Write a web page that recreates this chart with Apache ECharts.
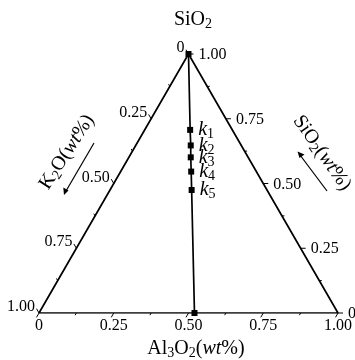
<!DOCTYPE html>
<html><head><meta charset="utf-8">
<script src="https://cdn.jsdelivr.net/npm/echarts@6/dist/echarts.min.js"></script>
<style>html,body{margin:0;padding:0;background:#fff}#c{width:355px;height:360px}</style>
</head><body><div id="c"></div>
<script>
// ---- data ----
const sampleNames = ['', 'k1', 'k2', 'k3', 'k4', 'k5', ''];
const sio2 = [1.00, 0.707, 0.647, 0.601, 0.546, 0.475, 0.00];
const al2o3 = [0.00, 0.152, 0.184, 0.207, 0.236, 0.273, 0.520];
const k2o  = [0.00, 0.141, 0.169, 0.192, 0.218, 0.252, 0.480];
const tickValues = [0, 0.25, 0.5, 0.75, 1];
const tickLabels = ['0', '0.25', '0.50', '0.75', '1.00'];
const minorValues = [0.125, 0.375, 0.625, 0.875];

const H = Math.sqrt(3) / 2;
const FONT = '"Liberation Serif","DejaVu Serif",serif';
function toXY(al, k, si) { return [al + si / 2, si * H]; }

// axes: 0 bottom (Al2O3), 1 left (K2O), 2 right (SiO2)
const axisPoint = [
  t => toXY(t, 1 - t, 0),
  t => toXY(0, t, 1 - t),
  t => toXY(1 - t, 0, t)
];
const tickDir = [[-0.5, 0.866], [-0.5, -0.866], [1, 0]];
const labelCfg = [
  {dx: 0, dy: 5, align: 'center', va: 'top'},
  {dx: -4, dy: 2, align: 'right', va: 'bottom'},
  {dx: 10, dy: 1, align: 'left', va: 'middle'}
];

const tickData = [];
for (let a = 0; a < 3; a++) {
  tickValues.forEach((t, i) => tickData.push([a, t, i, 1]));
  minorValues.forEach(t => tickData.push([a, t, -1, 0]));
}

const triangle = [toXY(0, 1, 0), toXY(1, 0, 0), toXY(0, 0, 1), toXY(0, 1, 0)];
const samples = sio2.map((s, i) => ({value: toXY(al2o3[i], k2o[i], s), name: sampleNames[i]}));

const sub = {fontFamily: FONT, fontSize: 14, fill: '#000', color: '#000', lineHeight: 14, verticalAlign: 'bottom', padding: [7, 0, 0, 0]};
const main = {fontFamily: FONT, fontSize: 20, fill: '#000', color: '#000', lineHeight: 23};
const ital = Object.assign({}, main, {fontStyle: 'italic'});

const chart = echarts.init(document.getElementById('c'));
chart.setOption({
  animation: false,
  grid: {left: 39, top: 54, width: 299, height: 259},
  xAxis: {type: 'value', min: 0, max: 1, show: false},
  yAxis: {type: 'value', min: 0, max: H, show: false},
  series: [
    {type: 'line', data: triangle, symbol: 'none', lineStyle: {color: '#000', width: 1.7}, silent: true},
    {type: 'line', data: samples, symbol: 'rect', symbolSize: 6,
      itemStyle: {color: '#000'}, lineStyle: {color: '#000', width: 1.7},
      label: {show: true, position: 'right', distance: 5,
        formatter: p => p.name ? '{k|k}{s|' + p.name.slice(1) + '}' : '',
        rich: {k: ital, s: sub}}},
    {type: 'custom', data: tickData, clip: false, encode: {x: 1, y: 1},
      renderItem: function (params, api) {
        const a = api.value(0), t = api.value(1), li = api.value(2), major = api.value(3);
        const p = api.coord(axisPoint[a](t));
        const d = tickDir[a];
        const len = major ? 5 : 2.5;
        const children = [{type: 'line', shape: {x1: p[0], y1: p[1], x2: p[0] + d[0] * len, y2: p[1] + d[1] * len},
          style: {stroke: '#000', lineWidth: 1}}];
        if (li >= 0) {
          const c = labelCfg[a];
          children.push({type: 'text', x: p[0] + c.dx, y: p[1] + c.dy,
            style: {text: tickLabels[li], fill: '#000', font: '16px ' + FONT, align: c.align, verticalAlign: c.va}});
        }
        return {type: 'group', children: children};
      }}
  ],
  graphic: [
    {type: 'text', x: 193, y: 20, style: {text: '{m|SiO}{s|2}', align: 'center', verticalAlign: 'middle', rich: {m: main, s: sub}}},
    {type: 'text', x: 196, y: 349, style: {text: '{m|Al}{s|3}{m|O}{s|2}{m|(}{i|wt}{m|%)}', align: 'center', verticalAlign: 'middle', rich: {m: main, i: ital, s: sub}}},
    {type: 'text', x: 67, y: 152, rotation: 57 * Math.PI / 180, style: {text: '{m|K}{s|2}{m|O(}{i|wt}{m|%)}', align: 'center', verticalAlign: 'middle', rich: {m: main, i: ital, s: sub}}},
    {type: 'text', x: 322, y: 153, rotation: -55 * Math.PI / 180, style: {text: '{m|SiO}{s|2}{m|(}{i|wt}{m|%)}', align: 'center', verticalAlign: 'middle', rich: {m: main, i: ital, s: sub}}},
    {type: 'line', shape: {x1: 94, y1: 143, x2: 66, y2: 191}, style: {stroke: '#000', lineWidth: 1.2}},
    {type: 'polygon', shape: {points: [[64, 195], [63.3, 187.5], [68.5, 190.5]]}, style: {fill: '#000'}},
    {type: 'line', shape: {x1: 327, y1: 191, x2: 300, y2: 155}, style: {stroke: '#000', lineWidth: 1.2}},
    {type: 'polygon', shape: {points: [[297.5, 151.5], [304.5, 154.5], [299.5, 158]]}, style: {fill: '#000'}}
  ]
});
</script>
</body></html>
